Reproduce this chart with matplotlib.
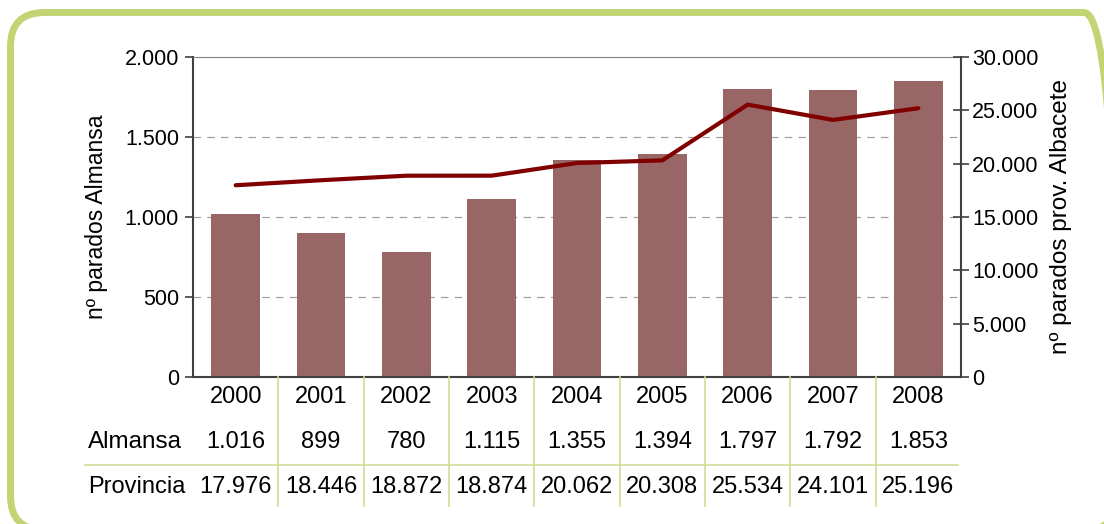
import matplotlib.pyplot as plt
import matplotlib.patches as patches
from matplotlib.transforms import IdentityTransform
import numpy as np

years = ['2000', '2001', '2002', '2003', '2004', '2005', '2006', '2007', '2008']
almansa = [1016, 899, 780, 1115, 1355, 1394, 1797, 1792, 1853]
provincia = [17976, 18446, 18872, 18874, 20062, 20308, 25534, 24101, 25196]
almansa_labels = ['1.016', '899', '780', '1.115', '1.355', '1.394', '1.797', '1.792', '1.853']
provincia_labels = ['17.976', '18.446', '18.872', '18.874', '20.062', '20.308', '25.534', '24.101', '25.196']
left_ticks = [0, 500, 1000, 1500, 2000]
left_tick_labels = ['0', '500', '1.000', '1.500', '2.000']
right_ticks = [0, 5000, 10000, 15000, 20000, 25000, 30000]
right_tick_labels = ['0', '5.000', '10.000', '15.000', '20.000', '25.000', '30.000']

plt.rcParams['font.family'] = ['Liberation Sans', 'DejaVu Sans']

W, H = 1104, 524
fig = plt.figure(figsize=(W / 100, H / 100), dpi=100)
fig.patch.set_facecolor('white')

# borde verde redondeado (en pixeles)
border = patches.FancyBboxPatch((10.5, H - 530), 1118 - 10.5, 530 - 12.5,
                                boxstyle='round,pad=0,rounding_size=34',
                                transform=IdentityTransform(), facecolor='none',
                                edgecolor='#c2d572', linewidth=5)
fig.patches.append(border)

x0, x1, y0, y1 = 193, 961, 57, 377
ax = fig.add_axes([x0 / W, 1 - y1 / H, (x1 - x0) / W, (y1 - y0) / H])
x = np.arange(len(years))
ax.bar(x, almansa, width=0.57, color='#996666', zorder=2)
ax.set_xlim(-0.5, len(years) - 0.5)
ax.set_ylim(0, 2000)
ax.set_yticks(left_ticks)
ax.set_yticklabels(left_tick_labels, fontsize=15.5)
ax.set_xticks([])
for v in left_ticks[1:-1]:
    ax.axhline(v, color='#a0a0a0', linestyle=(0, (6, 5)), linewidth=0.9, zorder=1)
ax.tick_params(axis='y', length=6, width=1.2, color='#404040', pad=4)
for s in ['left', 'bottom']:
    ax.spines[s].set_color('#404040')
    ax.spines[s].set_linewidth(1.5)
ax.spines['top'].set_color('#808080')
ax.spines['right'].set_visible(False)
ax.set_ylabel('nº parados Almansa', fontsize=16.5, labelpad=12)

ax2 = ax.twinx()
ax2.plot(x, provincia, color='#800000', linewidth=3, solid_capstyle='round', zorder=3)
ax2.set_ylim(0, 30000)
ax2.set_yticks(right_ticks)
ax2.set_yticklabels(right_tick_labels, fontsize=15.5)
ax2.tick_params(axis='y', direction='inout', length=12, width=1.2, color='#404040', pad=2)
for s in ['left', 'top', 'bottom']:
    ax2.spines[s].set_visible(False)
ax2.spines['right'].set_color('#404040')
ax2.spines['right'].set_linewidth(1.5)
ax2.set_ylabel('nº parados prov. Albacete', fontsize=17.5, labelpad=8)

# tabla de datos
cat_w = (x1 - x0) / len(years)
green = '#cfdc98'
for i in range(1, len(years)):
    xx = (x0 + i * cat_w) / W
    fig.add_artist(plt.Line2D([xx, xx], [1 - 377 / H, 1 - 506 / H], color=green, linewidth=1.2))
fig.add_artist(plt.Line2D([85 / W, 958 / W], [1 - 465 / H, 1 - 465 / H], color=green, linewidth=1.2))

for i in range(len(years)):
    cx = (x0 + (i + 0.5) * cat_w) / W
    fig.text(cx, 1 - 397 / H, years[i], ha='center', va='center', fontsize=17)
    fig.text(cx, 1 - 442 / H, almansa_labels[i], ha='center', va='center', fontsize=17)
    fig.text(cx, 1 - 487 / H, provincia_labels[i], ha='center', va='center', fontsize=17)
fig.text(88 / W, 1 - 442 / H, 'Almansa', ha='left', va='center', fontsize=17.5)
fig.text(88 / W, 1 - 487 / H, 'Provincia', ha='left', va='center', fontsize=17)

fig.savefig('out.png', dpi=100, facecolor='white')
